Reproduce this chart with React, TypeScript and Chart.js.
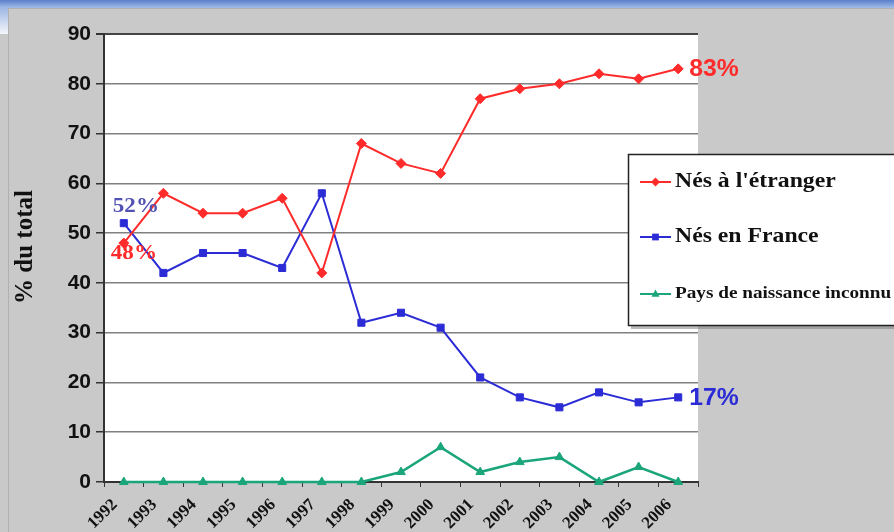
import { useEffect, useRef } from 'react';
import { Chart, registerables } from 'chart.js';
Chart.register(...registerables);

const years = ['1992', '1993', '1994', '1995', '1996', '1997', '1998', '1999', '2000', '2001', '2002', '2003', '2004', '2005', '2006'];
const etranger = [48, 58, 54, 54, 57, 42, 68, 64, 62, 77, 79, 80, 82, 81, 83];
const france = [52, 42, 46, 46, 43, 58, 32, 34, 31, 21, 17, 15, 18, 16, 17];
const inconnu = [0, 0, 0, 0, 0, 0, 0, 2, 7, 2, 4, 5, 0, 3, 0];
const seriesNames = ["Nés à l'étranger", 'Nés en France', 'Pays de naissance inconnu'];
const axisTitle = '% du total';

const RED = '#ff2b2b';
const BLUE = '#2c2cd6';
const GREEN = '#1ba57a';
const SLATE = '#5252b4';

function drawMarker(ctx: CanvasRenderingContext2D, style: string, x: number, y: number, r: number, color: string) {
  ctx.fillStyle = color;
  ctx.beginPath();
  if (style === 'rectRot') {
    ctx.moveTo(x, y - r); ctx.lineTo(x + r, y); ctx.lineTo(x, y + r); ctx.lineTo(x - r, y); ctx.closePath();
  } else if (style === 'rect') {
    ctx.rect(x - r * 0.75, y - r * 0.75, r * 1.5, r * 1.5);
  } else {
    ctx.moveTo(x, y - r); ctx.lineTo(x + r * 0.9, y + r * 0.6); ctx.lineTo(x - r * 0.9, y + r * 0.6); ctx.closePath();
  }
  ctx.fill();
}

function stretchedText(ctx: CanvasRenderingContext2D, text: string, x: number, y: number, font: string, color: string, sx: number) {
  ctx.save();
  ctx.translate(x, y);
  ctx.scale(sx, 1);
  ctx.font = font;
  ctx.fillStyle = color;
  ctx.textAlign = 'left';
  ctx.textBaseline = 'middle';
  ctx.fillText(text, 0, 0);
  ctx.restore();
}

const bgPlugin = {
  id: 'bgPlugin',
  beforeDraw(chart: any) {
    const { ctx, chartArea: a, width, height } = chart;
    ctx.save();
    ctx.fillStyle = '#c9c9c9';
    ctx.fillRect(0, 0, width, height);
    const g = ctx.createLinearGradient(0, 0, 0, 8);
    g.addColorStop(0, '#5a7fcc');
    g.addColorStop(1, '#a3bde8');
    ctx.fillStyle = g;
    ctx.fillRect(0, 0, width, 8);
    ctx.fillStyle = '#b0b0b0';
    ctx.fillRect(8, 8, width, 1);
    ctx.fillRect(8, 8, 1, height);
    const g2 = ctx.createLinearGradient(0, 8, 0, 34);
    g2.addColorStop(0, '#9fb8e4');
    g2.addColorStop(1, '#f4f6fa');
    ctx.fillStyle = g2;
    ctx.fillRect(0, 8, 8, 26);
    ctx.fillStyle = '#ffffff';
    ctx.fillRect(a.left, a.top, a.right - a.left, a.bottom - a.top);
    ctx.restore();
  },
};

const overlayPlugin = {
  id: 'overlayPlugin',
  afterDraw(chart: any) {
    const { ctx } = chart;
    const xs = chart.scales.x;
    const ys = chart.scales.y;
    ctx.save();
    // axis title
    ctx.save();
    ctx.translate(26, 247);
    ctx.rotate(-Math.PI / 2);
    ctx.font = 'bold 25px "Liberation Serif"';
    ctx.fillStyle = '#111';
    ctx.textAlign = 'center';
    ctx.textBaseline = 'middle';
    ctx.fillText(axisTitle, 0, 0);
    ctx.restore();

    // annotations
    const x0 = xs.getPixelForValue(0);
    const xn = xs.getPixelForValue(years.length - 1);
    const last = years.length - 1;
    stretchedText(ctx, `${france[0]}%`, x0 - 11, ys.getPixelForValue(france[0]) - 17, 'bold 21px "Liberation Serif"', SLATE, 1.1);
    stretchedText(ctx, `${etranger[0]}%`, x0 - 13, ys.getPixelForValue(etranger[0]) + 11, 'bold 21px "Liberation Serif"', RED, 1.1);
    stretchedText(ctx, `${etranger[last]}%`, xn + 11, ys.getPixelForValue(etranger[last]) + 1, 'bold 24px "Liberation Sans"', RED, 1.03);
    stretchedText(ctx, `${france[last]}%`, xn + 11, ys.getPixelForValue(france[last]) + 1, 'bold 24px "Liberation Sans"', BLUE, 1.03);

    // legend
    ctx.fillStyle = 'rgba(120,120,120,0.5)';
    ctx.fillRect(631, 326, 270, 3);
    ctx.fillStyle = '#ffffff';
    ctx.fillRect(628, 154, 280, 171);
    ctx.strokeStyle = '#222';
    ctx.lineWidth = 1.5;
    ctx.strokeRect(628.5, 154.5, 280, 171);
    const entries = [
      { y: 182, color: RED, style: 'rectRot', font: 'bold 21px "Liberation Serif"' },
      { y: 237, color: BLUE, style: 'rect', font: 'bold 21px "Liberation Serif"' },
      { y: 294, color: GREEN, style: 'triangle', font: 'bold 17px "Liberation Serif"' },
    ];
    entries.forEach((e, i) => {
      ctx.strokeStyle = e.color;
      ctx.lineWidth = 2;
      ctx.beginPath();
      ctx.moveTo(640, e.y);
      ctx.lineTo(671, e.y);
      ctx.stroke();
      drawMarker(ctx, e.style, 655.5, e.y, 4.5, e.color);
      stretchedText(ctx, seriesNames[i], 675, e.y, e.font, '#111', 1.13);
    });
    ctx.restore();
  },
};

export default function App() {
  const ref = useRef<HTMLCanvasElement | null>(null);
  useEffect(() => {
    document.body.style.margin = '0';
    if (!ref.current) return;
    const chart = new Chart(ref.current, {
      type: 'line',
      data: {
        labels: years,
        datasets: [
          {
            label: seriesNames[0], data: etranger, borderColor: RED, backgroundColor: RED,
            borderWidth: 2, pointStyle: 'rectRot', pointRadius: 5, pointBorderWidth: 1, tension: 0, clip: false,
          },
          {
            label: seriesNames[1], data: france, borderColor: BLUE, backgroundColor: BLUE,
            borderWidth: 2, pointStyle: 'rect', pointRadius: 5, pointBorderWidth: 1, tension: 0, clip: false,
          },
          {
            label: seriesNames[2], data: inconnu, borderColor: GREEN, backgroundColor: GREEN,
            borderWidth: 2.5, pointStyle: 'triangle', pointRadius: 5, pointBorderWidth: 1, tension: 0, clip: false,
          },
        ],
      },
      options: {
        responsive: false,
        animation: false,
        devicePixelRatio: 1,
        layout: { padding: { left: 0, top: 34, right: 196, bottom: 0 } },
        plugins: { legend: { display: false }, tooltip: { enabled: false }, title: { display: false } },
        scales: {
          x: {
            type: 'category',
            offset: true,
            grid: { offset: true, drawOnChartArea: false, drawTicks: true, tickLength: 5, color: '#333', tickColor: '#333' },
            border: { display: true, color: '#333', width: 2 },
            ticks: {
              autoSkip: false, maxRotation: 45, minRotation: 45, color: '#111', padding: 8, labelOffset: -9,
              font: { family: 'Liberation Serif', weight: 'bold', size: 17 },
            },
            afterFit(s: any) { s.height = 50; },
          },
          y: {
            min: 0, max: 90,
            ticks: { stepSize: 10, color: '#111', padding: 5, font: { family: 'Liberation Sans', weight: 'bold', size: 21 } },
            grid: {
              color: (c: any) => (c.tick && c.tick.value === 90 ? '#444' : '#808080'),
              lineWidth: (c: any) => (c.tick && c.tick.value === 90 ? 2 : 1.5),
              tickLength: 8,
              tickColor: '#333',
            },
            border: { display: true, color: '#333', width: 2 },
            afterFit(s: any) { s.width = 104; },
          },
        },
      },
      plugins: [bgPlugin, overlayPlugin],
    } as any);
    return () => chart.destroy();
  }, []);
  return (
    <div style={{ position: 'absolute', left: 0, top: 0, width: 894, height: 532 }}>
      <canvas ref={ref} width={894} height={532} style={{ width: 894, height: 532, display: 'block' }} />
    </div>
  );
}
